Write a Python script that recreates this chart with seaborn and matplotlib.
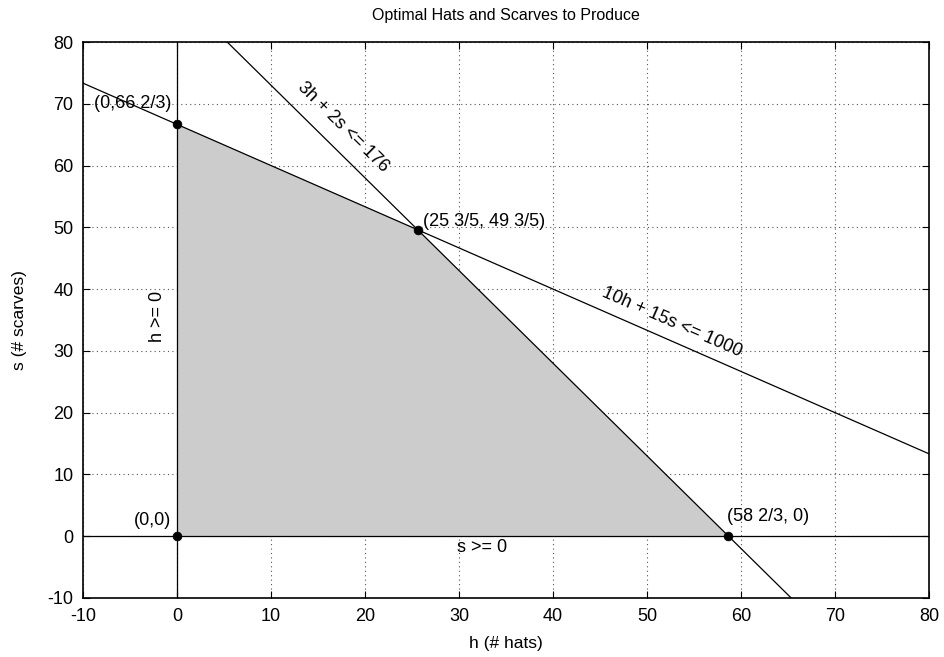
import matplotlib
matplotlib.use("Agg")
import matplotlib.pyplot as plt
import seaborn as sns
import pandas as pd

# constraint lines (endpoints)
hats_line_h = [5.33, 65.33]      # 3h + 2s <= 176
hats_line_s = [80.0, -10.0]
wool_line_h = [-10.0, 80.0]      # 10h + 15s <= 1000
wool_line_s = [73.33, 13.33]

# feasible region corners
corner_h = [0.0, 0.0, 25.6, 58.67]
corner_s = [0.0, 66.67, 49.6, 0.0]
corner_labels = ["(0,0)", "(0,66 2/3)", "(25 3/5, 49 3/5)", "(58 2/3, 0)"]

ticks = list(range(-10, 81, 10))

sns.set_style("ticks")
plt.rcParams["font.family"] = ["Liberation Sans", "DejaVu Sans"]
plt.rcParams["font.size"] = 13
plt.rcParams["text.color"] = "black"
plt.rcParams["axes.labelcolor"] = "black"
plt.rcParams["xtick.color"] = "black"
plt.rcParams["ytick.color"] = "black"
plt.rcParams["axes.unicode_minus"] = False

fig, ax = plt.subplots(figsize=(9.45, 6.57), dpi=100)
fig.subplots_adjust(left=0.088, right=0.983, top=0.936, bottom=0.09)

ax.fill(corner_h, corner_s, color="#cccccc", lw=0, zorder=1)

ax.grid(True, linestyle=(0, (1, 3)), color="#555555", lw=0.8, zorder=0)
ax.set_axisbelow(True)

lines = pd.DataFrame({
    "h": hats_line_h + wool_line_h,
    "s": hats_line_s + wool_line_s,
    "c": ["a", "a", "b", "b"],
})
sns.lineplot(data=lines, x="h", y="s", units="c", estimator=None,
             color="black", lw=0.9, ax=ax, zorder=3, sort=False)
ax.axvline(0, color="black", lw=0.9, zorder=3)
ax.axhline(0, color="black", lw=0.9, zorder=3)

sns.scatterplot(x=corner_h, y=corner_s, color="black", s=40,
                edgecolor="black", ax=ax, zorder=4)

ax.text(-0.6, 70.0, corner_labels[1], ha="right", va="center")
ax.text(26.2, 51.0, corner_labels[2], ha="left", va="center")
ax.text(-0.6, 2.6, corner_labels[0], ha="right", va="center")
ax.text(58.5, 3.1, corner_labels[3], ha="left", va="center")

ax.text(17.7, 66.2, "3h + 2s <= 176", rotation=-44.6, ha="center",
        va="center", rotation_mode="anchor", fontsize=13)
ax.text(52.7, 34.7, "10h + 15s <= 1000", rotation=-23.7, ha="center",
        va="center", rotation_mode="anchor", fontsize=13)
ax.text(-2.1, 35.5, "h >= 0", rotation=90, ha="center", va="center")
ax.text(32.5, -1.9, "s >= 0", ha="center", va="center")

ax.set_xlim(-10, 80)
ax.set_ylim(-10, 80)
ax.set_xticks(ticks)
ax.set_yticks(ticks)
ax.tick_params(direction="in", top=True, right=True, length=5, width=0.8,
               labelsize=13, pad=7)
for sp in ax.spines.values():
    sp.set_linewidth(1.2)
    sp.set_color("black")

ax.set_xlabel("h (# hats)", fontsize=12.5, labelpad=8)
ax.set_ylabel("s (# scarves)", fontsize=12.5, labelpad=15)
ax.set_title("Optimal Hats and Scarves to Produce", fontsize=11.5, pad=16)

fig.savefig("out.png", dpi=100)
